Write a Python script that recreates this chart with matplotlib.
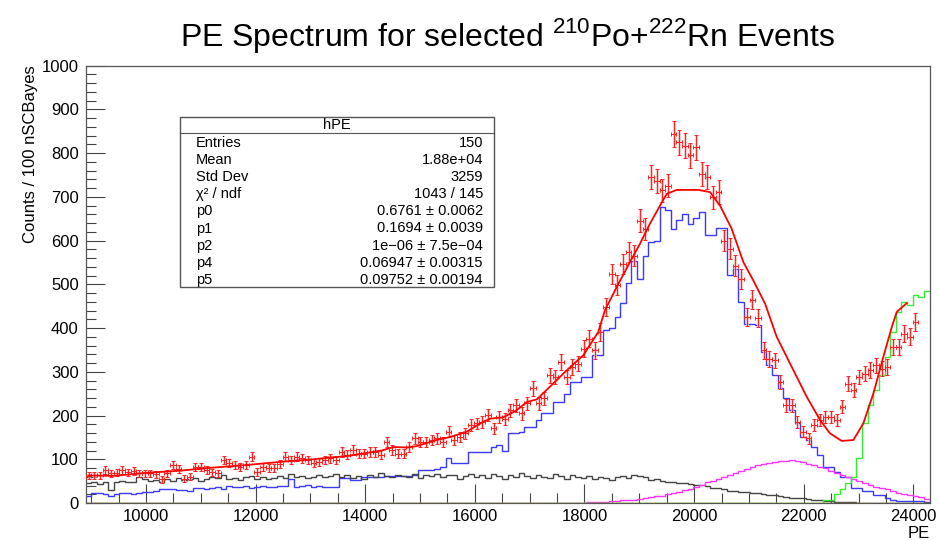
import numpy as np
import matplotlib
matplotlib.use("Agg")
import matplotlib.pyplot as plt
from matplotlib.ticker import MultipleLocator

plt.rcParams['font.family'] = ['Liberation Sans', 'DejaVu Sans']
plt.rcParams['mathtext.fontset'] = 'custom'
plt.rcParams['mathtext.rm'] = 'Liberation Sans'

# binning of hPE
x_lo = 8900
x_hi = 24295
n_bins = 150

# data points (hPE), bins 0..147
data = [62, 64, 64, 75, 68, 69, 75, 70, 73, 68,
        68, 68, 66, 54, 68, 87, 78, 56, 60, 83,
        83, 76, 70, 68, 98, 92, 87, 83, 87, 106,
        71, 83, 80, 80, 90, 106, 98, 106, 102, 98,
        91, 94, 98, 102, 98, 117,
        110, 121, 113, 113, 117, 117, 110, 140, 121, 113, 113, 128, 148, 140, 140, 144,
        148, 140, 163, 144, 151, 159, 178, 182, 186, 201, 171, 197, 193, 212, 224, 205,
        228, 262, 228, 239, 292, 288, 323, 288, 311, 319, 353, 376, 349, 391,
        448, 524, 498, 547, 574, 566, 646, 627, 745, 737, 715, 726, 844, 825, 817, 795,
        813, 753, 745, 699, 711, 600, 581, 543, 513,
        425, 465, 422, 349, 330, 326, 277, 224, 224, 186, 163, 148, 178, 189, 197, 197,
        189, 220, 273, 258, 288, 296, 304, 315, 307, 311, 357, 357, 387, 380, 414]

# fit curve
fit_x = [8950, 9400, 10010, 10620, 11230, 11840, 12450, 13050, 13700, 14300, 14510,
         14760, 14940, 15300, 15550, 15850, 16155, 16280, 16520, 16760, 16950, 17130,
         17370, 17680, 17980, 18250, 18374, 18588, 18830, 19013, 19195, 19378, 19500,
         19682, 20077, 20290, 20473, 20686, 20898, 21080, 21294, 21507, 21750, 22054,
         22297, 22480, 22693, 22905, 23087, 23270, 23452, 23606, 23697, 23879]
fit_y = [63, 62, 69, 74, 81, 87, 94, 100, 108, 120, 128,
         127, 130, 144, 151, 163, 186, 193, 196, 212, 231, 237,
         266, 304, 338, 391, 441, 494, 551, 593, 639, 680, 707,
         716, 716, 711, 680, 627, 551, 509, 456, 380, 319, 243,
         190, 159, 142, 144, 182, 250, 334, 402, 437, 457]

# components
blue = [16, 22, 22, 20, 17, 20, 24, 22, 20, 22,
        26, 25, 27, 32, 32, 31, 30, 29, 28, 35,
        34, 33, 35, 36, 33, 38, 37, 36, 38, 35,
        37, 38, 36, 37, 39, 38, 56, 36, 40, 42,
        36, 38, 36, 37, 36, 58, 58, 52, 52, 60,
        60, 60, 60, 62, 62, 62, 62, 62, 65, 75,
        75, 75, 78, 83, 102, 91, 91, 91, 117, 117,
        117, 117, 128, 132, 120, 159, 159, 162, 174, 174,
        190, 205, 205, 231, 231, 250, 277, 277, 288, 288,
        338, 338, 395, 400, 425, 457, 502, 553, 513, 566,
        597, 600, 678, 670, 627, 648, 661, 637, 652, 665,
        614, 614, 629, 629, 522, 536, 460, 410, 410, 406,
        345, 315, 292, 262, 239, 212, 182, 151, 144, 129,
        110, 83, 83, 71, 60, 60, 34, 34, 28, 28,
        18, 18, 11, 7, 5, 4, 4, 5, 4, 2]

black = [45, 48, 44, 47, 30, 48, 50, 49, 48, 60,
         55, 50, 52, 47, 55, 50, 57, 52, 56, 58,
         50, 55, 60, 57, 63, 55, 58, 53, 60, 62,
         56, 60, 55, 58, 61, 57, 67, 60, 62, 58,
         60, 64, 59, 62, 66, 60, 65, 58, 62, 55,
         63, 60, 68, 62, 59, 65, 62, 60, 66, 58,
         63, 61, 67, 59, 65, 63, 55, 62, 66, 60,
         64, 58, 66, 61, 55, 63, 60, 68, 62, 58,
         64, 60, 57, 66, 61, 55, 63, 60, 58, 62,
         55, 60, 57, 53, 60, 62, 58, 65, 62, 60,
         52, 55, 50, 48, 47, 45, 45, 44, 42, 42,
         38, 35, 34, 32, 28, 27, 26, 25, 24, 22,
         20, 19, 18, 16, 13, 12, 11, 11, 9, 7,
         6, 5, 4, 3, 3, 2, 2, 1, 1, 1,
         1, 0, 0, 0, 0, 0, 0, 0, 0, 0]

magenta = [0] * 85 + [0, 1, 1, 1, 2, 2, 3, 3, 4, 5, 6, 7, 8, 9, 11,
                      13, 15, 17, 20, 23, 26, 29, 33, 37, 42,
                      47, 51, 56, 60, 64, 68, 73, 77, 82, 86,
                      89, 91, 94, 95, 97, 98, 96, 93, 90, 87,
                      83, 79, 74, 69, 64, 60, 55, 50, 45, 41,
                      37, 34, 31, 28, 24, 21, 18, 15, 13, 10]

green = [0] * 131 + [7, 7, 20, 31, 45, 59, 102, 183, 224, 258,
                     292, 334, 391, 437, 460, 452, 475, 470, 485]

yellow = [0] * 22 + [1] + [0] * 108 + [1] * 19

edges = np.linspace(x_lo, x_hi, n_bins + 1)
centers = 0.5 * (edges[:-1] + edges[1:])
half_w = 0.5 * (edges[1] - edges[0])

fig = plt.figure(figsize=(9.39, 5.40), dpi=100)
ax = fig.add_axes([0.0913, 0.0685, 0.8986, 0.8098])

d = np.array(data, dtype=float)
xc = centers[:len(d)]
ax.errorbar(xc, d, yerr=np.sqrt(d), fmt='none', ecolor='#ffb4b4',
            elinewidth=1.8, capsize=0, zorder=3)
ax.errorbar(xc, d, yerr=np.sqrt(d), xerr=half_w, fmt='none', ecolor='#ff2020',
            elinewidth=0.7, capsize=1.6, capthick=0.7, zorder=4)
ax.plot(fit_x, fit_y, color='red', lw=1.3, zorder=5)

ax.stairs(blue, edges, baseline=None, color='#3a3aff', lw=1.0, zorder=2)
ax.stairs(black, edges, baseline=None, color='#444444', lw=1.0, zorder=2)
ax.stairs(magenta, edges, baseline=None, color='#ff33ff', lw=1.0, zorder=2)
ax.stairs(green, edges, baseline=None, color='#33ee33', lw=1.0, zorder=2)
ax.stairs(yellow, edges, baseline=None, color='#c8a800', lw=1.0, zorder=2)

ax.set_xlim(x_lo, x_hi)
ax.set_ylim(0, 1000)
ax.xaxis.set_major_locator(MultipleLocator(2000))
ax.xaxis.set_minor_locator(MultipleLocator(500))
ax.yaxis.set_major_locator(MultipleLocator(100))
ax.yaxis.set_minor_locator(MultipleLocator(20))
ax.tick_params(which='both', direction='in', labelsize=12, width=0.8, color='#444444')
ax.tick_params(which='major', length=14)
ax.tick_params(which='minor', length=7)
ax.tick_params(axis='x', pad=4)
ax.tick_params(axis='y', pad=5)
for s in ax.spines.values():
    s.set_color('#555555')
    s.set_linewidth(0.9)

fig.text(930 / 939, 1 - 534 / 540, 'PE', ha='right', va='center', fontsize=12)
ax.set_ylabel('Counts / 100 nSCBayes', fontsize=12, loc='top')
ax.yaxis.set_label_coords(-0.057, 1.0)

fig.text(0.54, 0.935, r'PE Spectrum for selected $^{210}$Po+$^{222}$Rn Events',
         ha='center', va='center', fontsize=23)

# stats box
bx0, bx1 = 180 / 939, 494 / 939
by0, by1 = 1 - 287 / 540, 1 - 117 / 540
fig.add_artist(plt.Rectangle((bx0, by0), bx1 - bx0, by1 - by0, transform=fig.transFigure,
                             fill=True, facecolor='white', edgecolor='#555555', lw=1.0, zorder=10))
fig.add_artist(plt.Line2D([bx0, bx1], [1 - 133 / 540] * 2, transform=fig.transFigure,
                          color='#555555', lw=0.8, zorder=11))
fig.text((bx0 + bx1) / 2, 1 - 125 / 540, 'hPE', ha='center', va='center', fontsize=10.5, zorder=12)
stat_names = ['Entries', 'Mean', 'Std Dev', 'χ² / ndf', 'p0', 'p1', 'p2', 'p4', 'p5']
stat_vals = ['150', '1.88e+04', '3259', '1043 / 145', '0.6761 ± 0.0062', '0.1694 ± 0.0039',
             '1e−06 ± 7.5e−04', '0.06947 ± 0.00315', '0.09752 ± 0.00194']
for i, (nm, vl) in enumerate(zip(stat_names, stat_vals)):
    yy = 1 - (143 + 17.1 * i) / 540
    fig.text(196 / 939, yy, nm, ha='left', va='center', fontsize=10.5, zorder=12)
    fig.text(483 / 939, yy, vl, ha='right', va='center', fontsize=10.5, zorder=12)

fig.savefig('out.png', dpi=100)
